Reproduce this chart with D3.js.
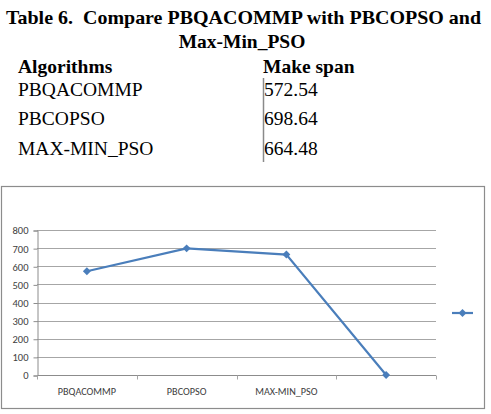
<!DOCTYPE html>
<html>
<head>
<meta charset="utf-8">
<script src="https://cdn.jsdelivr.net/npm/d3@7"></script>
<style>
  html, body { margin: 0; padding: 0; background: #fff; }
  svg { display: block; }
</style>
</head>
<body>
<div id="chart"></div>
<script>
// table + chart data
const algorithms = ['PBQACOMMP', 'PBCOPSO', 'MAX-MIN_PSO'];
const makespan = ['572.54', '698.64', '664.48'];
const categories = ['PBQACOMMP', 'PBCOPSO', 'MAX-MIN_PSO', ''];
const values = [572.54, 698.64, 664.48, 0];
const yTicks = [0, 100, 200, 300, 400, 500, 600, 700, 800];

const width = 491, height = 414;
const serif = 'Liberation Serif';
const sans = 'Carlito';
const blue = '#4a7ebb';

const svg = d3.select('#chart').append('svg')
    .attr('width', width)
    .attr('height', height);

// --- table caption ---
svg.append('text')
    .attr('x', 6).attr('y', 24)
    .attr('font-family', serif).attr('font-weight', 700).attr('font-size', 19.5)
    .attr('textLength', 475).attr('lengthAdjust', 'spacingAndGlyphs')
    .attr('xml:space', 'preserve')
    .text('Table 6.  Compare PBQACOMMP with PBCOPSO and');
svg.append('text')
    .attr('x', 242).attr('y', 48)
    .attr('text-anchor', 'middle')
    .attr('font-family', serif).attr('font-weight', 700).attr('font-size', 19.5)
    .text('Max-Min_PSO');

// header row
svg.append('text')
    .attr('x', 18).attr('y', 73)
    .attr('font-family', serif).attr('font-weight', 700).attr('font-size', 19.5)
    .text('Algorithms');
svg.append('text')
    .attr('x', 263).attr('y', 73)
    .attr('font-family', serif).attr('font-weight', 700).attr('font-size', 19.5)
    .text('Make span');

const rowY = [96, 125, 155];
svg.selectAll('text.alg')
    .data(algorithms)
    .join('text')
    .attr('class', 'alg')
    .attr('x', 18).attr('y', (d, i) => rowY[i])
    .attr('font-family', serif).attr('font-size', 19.5)
    .text(d => d);
svg.selectAll('text.val')
    .data(makespan)
    .join('text')
    .attr('class', 'val')
    .attr('x', 264).attr('y', (d, i) => rowY[i])
    .attr('font-family', serif).attr('font-size', 19.5)
    .text(d => d);

svg.append('line')
    .attr('x1', 263.5).attr('x2', 263.5)
    .attr('y1', 78).attr('y2', 162)
    .attr('stroke', '#8a8a8a').attr('stroke-width', 1.5);

// --- chart frame ---
svg.append('rect')
    .attr('x', 1.5).attr('y', 186.5)
    .attr('width', 483).attr('height', 222)
    .attr('fill', '#fff')
    .attr('stroke', '#8c8c8c').attr('stroke-width', 1.2);

const plot = { left: 37, right: 436, top: 230, bottom: 375 };

const x = d3.scaleBand()
    .domain(categories)
    .range([plot.left, plot.right])
    .padding(0);

const y = d3.scaleLinear()
    .domain([0, 800])
    .range([plot.bottom, plot.top]);

// gridlines
svg.append('g')
    .selectAll('line')
    .data(yTicks.filter(t => t > 0))
    .join('line')
    .attr('x1', plot.left).attr('x2', plot.right)
    .attr('y1', d => Math.round(y(d)) + 0.5).attr('y2', d => Math.round(y(d)) + 0.5)
    .attr('stroke', '#a6a6a6').attr('stroke-width', 1);

// y axis
const yAxis = svg.append('g')
    .attr('transform', `translate(${plot.left + 0.5},0.5)`)
    .call(d3.axisLeft(y).tickValues(yTicks).tickSize(4).tickPadding(5).tickFormat(d3.format('d')));
yAxis.select('.domain').attr('stroke', '#8c8c8c');
yAxis.selectAll('.tick line').attr('stroke', '#8c8c8c');
yAxis.selectAll('.tick text')
    .attr('font-family', sans).attr('font-size', 10.5).attr('fill', '#404040');

// x axis
const xAxis = svg.append('g')
    .attr('transform', `translate(0,${plot.bottom + 0.5})`);
xAxis.append('line')
    .attr('x1', plot.left).attr('x2', plot.right)
    .attr('stroke', '#8c8c8c');
const bounds = categories.map(c => x(c)).concat([plot.right]);
xAxis.selectAll('line.tk')
    .data(bounds)
    .join('line')
    .attr('class', 'tk')
    .attr('x1', d => Math.round(d) + 0.5).attr('x2', d => Math.round(d) + 0.5)
    .attr('y1', 0).attr('y2', 4)
    .attr('stroke', '#a6a6a6');
xAxis.selectAll('text')
    .data(categories)
    .join('text')
    .attr('x', d => x(d) + x.bandwidth() / 2)
    .attr('y', 19)
    .attr('text-anchor', 'middle')
    .attr('font-family', sans).attr('font-size', 10.2).attr('fill', '#404040')
    .text(d => d);

// series line
const pts = categories.map((c, i) => ({ c, v: values[i] }));
const line = d3.line()
    .x(d => x(d.c) + x.bandwidth() / 2)
    .y(d => y(d.v));

svg.append('path')
    .datum(pts)
    .attr('d', line)
    .attr('fill', 'none')
    .attr('stroke', blue)
    .attr('stroke-width', 2.2);

const diamond = d3.symbol().type(d3.symbolDiamond2).size(40);
svg.selectAll('path.mk')
    .data(pts)
    .join('path')
    .attr('class', 'mk')
    .attr('transform', d => `translate(${x(d.c) + x.bandwidth() / 2},${y(d.v)})`)
    .attr('d', diamond)
    .attr('fill', blue);

// legend
svg.append('line')
    .attr('x1', 452).attr('x2', 473)
    .attr('y1', 313).attr('y2', 313)
    .attr('stroke', blue).attr('stroke-width', 2.2);
svg.append('path')
    .attr('transform', 'translate(462.5,313)')
    .attr('d', diamond)
    .attr('fill', blue);
</script>
</body>
</html>
